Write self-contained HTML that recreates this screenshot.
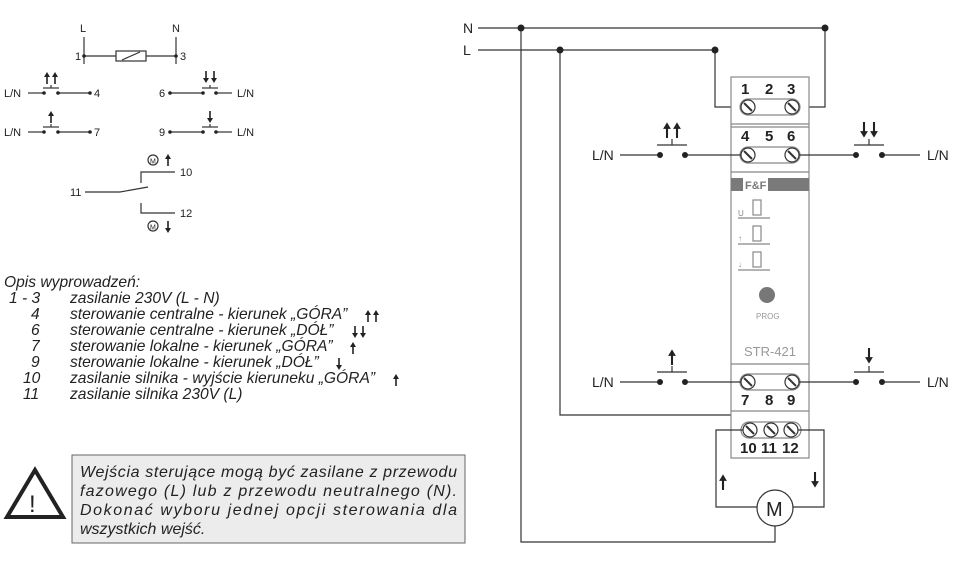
<!DOCTYPE html>
<html><head><meta charset="utf-8"><style>
html,body{margin:0;padding:0;background:#fff;width:965px;height:580px;overflow:hidden}
svg{display:block}
text{font-family:"Liberation Sans",sans-serif;fill:#222}
.it{font-style:italic;font-size:15.6px}
.b{font-weight:bold;font-size:15px}
</style></head><body>
<svg width="965" height="580" viewBox="0 0 965 580" xmlns="http://www.w3.org/2000/svg">
<defs>
<g id="scr"><circle r="7" fill="#fff" stroke="#333" stroke-width="1.2"/><line x1="-4" y1="-4" x2="4" y2="4" stroke="#333" stroke-width="2"/></g>
<g id="up"><line x1="0" y1="0" x2="0" y2="-8" stroke="#222" stroke-width="1.6"/><path d="M-3,-7 L0,-12 L3,-7Z" fill="#222"/></g>
<g id="dn"><line x1="0" y1="0" x2="0" y2="8" stroke="#222" stroke-width="1.6"/><path d="M-3,7 L0,12 L3,7Z" fill="#222"/></g>
</defs>
<g stroke="#333" stroke-width="1.2" fill="none">
<line x1="84" y1="37" x2="84" y2="64"/><line x1="176" y1="37" x2="176" y2="64"/>
<line x1="84" y1="56" x2="116" y2="56"/><line x1="146" y1="56" x2="176" y2="56"/>
<rect x="116" y="51" width="30" height="10"/><line x1="122" y1="60" x2="140" y2="52"/>
<line x1="28" y1="93" x2="44" y2="93"/><line x1="58" y1="93" x2="90" y2="93"/>
<line x1="43" y1="88" x2="59" y2="88"/><line x1="51" y1="88" x2="51" y2="85"/>
<line x1="170" y1="93" x2="203" y2="93"/><line x1="216" y1="93" x2="232" y2="93"/>
<line x1="202" y1="88" x2="218" y2="88"/><line x1="210" y1="88" x2="210" y2="85"/>
<line x1="28" y1="132" x2="44" y2="132"/><line x1="58" y1="132" x2="90" y2="132"/>
<line x1="43" y1="127" x2="59" y2="127"/><line x1="51" y1="127" x2="51" y2="124"/>
<line x1="170" y1="132" x2="203" y2="132"/><line x1="216" y1="132" x2="232" y2="132"/>
<line x1="202" y1="127" x2="218" y2="127"/><line x1="210" y1="127" x2="210" y2="124"/>
<line x1="85" y1="192" x2="120" y2="192"/><line x1="120" y1="192" x2="148" y2="187"/>
<polyline points="141,183 141,172 175,172"/><polyline points="141,203 141,213 175,213"/>
<circle cx="153" cy="160" r="5"/><circle cx="153" cy="226" r="5"/>
</g>
<g fill="#222">
<circle cx="84" cy="56" r="1.8"/><circle cx="176" cy="56" r="1.8"/>
<circle cx="44" cy="93" r="1.8"/><circle cx="58" cy="93" r="1.8"/><circle cx="90" cy="93" r="1.8"/>
<circle cx="170" cy="93" r="1.8"/><circle cx="203" cy="93" r="1.8"/><circle cx="216" cy="93" r="1.8"/>
<circle cx="44" cy="132" r="1.8"/><circle cx="58" cy="132" r="1.8"/><circle cx="90" cy="132" r="1.8"/>
<circle cx="170" cy="132" r="1.8"/><circle cx="203" cy="132" r="1.8"/><circle cx="216" cy="132" r="1.8"/>
</g>
<use href="#up" x="47" y="84"/><use href="#up" x="55" y="84"/>
<use href="#dn" x="206" y="71"/><use href="#dn" x="214" y="71"/>
<use href="#up" x="51" y="123"/><use href="#dn" x="210" y="111"/>
<use href="#up" x="168" y="166"/><use href="#dn" x="168" y="221"/>
<g font-size="11">
<text x="80" y="32">L</text><text x="172" y="32">N</text>
<text x="75" y="60">1</text><text x="180" y="60">3</text>
<text x="4" y="97">L/N</text><text x="94" y="97">4</text>
<text x="159" y="97">6</text><text x="237" y="97">L/N</text>
<text x="4" y="136">L/N</text><text x="94" y="136">7</text>
<text x="159" y="136">9</text><text x="237" y="136">L/N</text>
<text x="70" y="196">11</text><text x="180" y="176">10</text><text x="180" y="217">12</text>
<text x="150" y="163.5" font-size="7">M</text><text x="150" y="229.5" font-size="7">M</text>
</g>
<g class="it">
<text x="4" y="287">Opis wyprowadzeń:</text>
<text x="9" y="303">1 - 3</text><text x="70" y="303">zasilanie 230V (L - N)</text>
<text x="31" y="319">4</text><text x="70" y="319">sterowanie centralne - kierunek „GÓRA”</text>
<text x="31" y="335">6</text><text x="70" y="335">sterowanie centralne - kierunek „DÓŁ”</text>
<text x="31" y="351">7</text><text x="70" y="351">sterowanie lokalne - kierunek „GÓRA”</text>
<text x="31" y="367">9</text><text x="70" y="367">sterowanie lokalne - kierunek „DÓŁ”</text>
<text x="23" y="383">10</text><text x="70" y="383">zasilanie silnika - wyjście kieruneku „GÓRA”</text>
<text x="23" y="399">11</text><text x="70" y="399">zasilanie silnika 230V (L)</text>
</g>
<use href="#up" x="368" y="322"/><use href="#up" x="376" y="322"/>
<use href="#dn" x="355" y="326"/><use href="#dn" x="363" y="326"/>
<use href="#up" x="353" y="354"/><use href="#dn" x="339" y="358"/>
<use href="#up" x="396" y="386"/>
<rect x="72" y="455" width="393" height="88" fill="#ececec" stroke="#666" stroke-width="1"/>
<g class="it" style="font-size:16px">
<text x="80" y="477" textLength="377" lengthAdjust="spacing">Wejścia sterujące mogą być zasilane z przewodu</text>
<text x="80" y="496" textLength="377" lengthAdjust="spacing">fazowego (L) lub z przewodu neutralnego (N).</text>
<text x="80" y="515" textLength="377" lengthAdjust="spacing">Dokonać wyboru jednej opcji sterowania dla</text>
<text x="80" y="534">wszystkich wejść.</text>
</g>
<path d="M35,470 L63,517 L7,517Z" fill="#fff" stroke="#222" stroke-width="4" stroke-linejoin="miter"/>
<text x="29" y="512" font-size="24">!</text>
<g stroke="#333" stroke-width="1.2" fill="none">
<line x1="478" y1="28" x2="825" y2="28"/>
<line x1="478" y1="50" x2="715" y2="50"/>
<polyline points="521,28 521,542 775,542 775,526"/>
<polyline points="560,50 560,415 771,415 771,430"/>
<polyline points="715,50 715,107 748,107"/>
<polyline points="825,28 825,107 792,107"/>
<rect x="731" y="77" width="78" height="381" fill="#fff" stroke="#888"/>
<line x1="731" y1="124" x2="809" y2="124" stroke="#888"/>
<line x1="731" y1="127" x2="809" y2="127" stroke="#888"/>
<line x1="731" y1="172" x2="809" y2="172" stroke="#888"/>
<line x1="731" y1="364" x2="809" y2="364" stroke="#888"/>
<line x1="731" y1="411" x2="809" y2="411" stroke="#888"/>
<rect x="740" y="99" width="60" height="16" rx="8" stroke="#888"/>
<rect x="740" y="147" width="60" height="16" rx="8" stroke="#888"/>
<rect x="740" y="374" width="60" height="16" rx="8" stroke="#888"/>
<rect x="741" y="422" width="60" height="16" rx="8" stroke="#888"/>
<line x1="620" y1="155" x2="660" y2="155"/><line x1="685" y1="155" x2="748" y2="155"/>
<line x1="657" y1="145" x2="687" y2="145"/><line x1="672" y1="145" x2="672" y2="139"/>
<line x1="792" y1="155" x2="856" y2="155"/><line x1="882" y1="155" x2="920" y2="155"/>
<line x1="854" y1="145" x2="884" y2="145"/><line x1="869" y1="145" x2="869" y2="139"/>
<line x1="620" y1="382" x2="660" y2="382"/><line x1="685" y1="382" x2="748" y2="382"/>
<line x1="657" y1="372" x2="687" y2="372"/><line x1="672" y1="372" x2="672" y2="366"/>
<line x1="792" y1="382" x2="856" y2="382"/><line x1="882" y1="382" x2="920" y2="382"/>
<line x1="854" y1="372" x2="884" y2="372"/><line x1="869" y1="372" x2="869" y2="366"/>
<polyline points="750,430 716,430 716,507 757,507"/>
<polyline points="791,430 824,430 824,507 793,507"/>
<circle cx="775" cy="508" r="18" fill="#fff"/>
<line x1="738" y1="218" x2="770" y2="218" stroke="#888"/>
<line x1="738" y1="244" x2="770" y2="244" stroke="#888"/>
<line x1="738" y1="270" x2="770" y2="270" stroke="#888"/>
<rect x="753" y="200" width="8" height="15" stroke="#888"/>
<rect x="753" y="226" width="8" height="15" stroke="#888"/>
<rect x="753" y="252" width="8" height="15" stroke="#888"/>
</g>
<use href="#scr" x="748" y="107"/><use href="#scr" x="792" y="107"/>
<use href="#scr" x="748" y="155"/><use href="#scr" x="792" y="155"/>
<use href="#scr" x="748" y="382"/><use href="#scr" x="792" y="382"/>
<use href="#scr" x="750" y="430"/><use href="#scr" x="771" y="430"/><use href="#scr" x="791" y="430"/>
<g fill="#222">
<circle cx="521" cy="28" r="3.5"/><circle cx="825" cy="28" r="3.5"/>
<circle cx="560" cy="50" r="3.5"/><circle cx="715" cy="50" r="3.5"/>
<circle cx="660" cy="155" r="3"/><circle cx="685" cy="155" r="3"/>
<circle cx="856" cy="155" r="3"/><circle cx="882" cy="155" r="3"/>
<circle cx="660" cy="382" r="3"/><circle cx="685" cy="382" r="3"/>
<circle cx="856" cy="382" r="3"/><circle cx="882" cy="382" r="3"/>
</g>
<rect x="731" y="178" width="78" height="13" fill="#7a7a7a"/>
<rect x="743" y="178" width="25" height="13" fill="#fff"/>
<text x="745" y="189" font-size="11" font-weight="bold" style="fill:#7a7a7a">F&amp;F</text>
<text x="738" y="216" font-size="8" style="fill:#888">U</text>
<text x="738" y="241" font-size="8" style="fill:#888">↑</text>
<text x="738" y="267" font-size="8" style="fill:#888">↓</text>
<circle cx="767" cy="295" r="8" fill="#777"/>
<text x="756" y="319" font-size="8" style="fill:#999">PROG</text>
<text x="744" y="356" font-size="13" style="fill:#999">STR-421</text>
<g transform="translate(667,138) scale(1.3)"><use href="#up"/></g>
<g transform="translate(677,138) scale(1.3)"><use href="#up"/></g>
<g transform="translate(864,122) scale(1.3)"><use href="#dn"/></g>
<g transform="translate(874,122) scale(1.3)"><use href="#dn"/></g>
<g transform="translate(672,365) scale(1.3)"><use href="#up"/></g>
<g transform="translate(869,348) scale(1.3)"><use href="#dn"/></g>
<g transform="translate(723,490) scale(1.3)"><use href="#up"/></g>
<g transform="translate(815,472) scale(1.3)"><use href="#dn"/></g>
<g class="b">
<text x="741" y="94">1</text><text x="765" y="94">2</text><text x="787" y="94">3</text>
<text x="741" y="141">4</text><text x="765" y="141">5</text><text x="787" y="141">6</text>
<text x="741" y="405">7</text><text x="765" y="405">8</text><text x="787" y="405">9</text>
<text x="740" y="453">10</text><text x="761" y="453">11</text><text x="782" y="453">12</text>
</g>
<text x="766" y="516" font-size="20">M</text>
<g font-size="14">
<text x="463" y="33">N</text><text x="463" y="55">L</text>
<text x="592" y="160">L/N</text><text x="927" y="160">L/N</text>
<text x="592" y="387">L/N</text><text x="927" y="387">L/N</text>
</g>
</svg>
</body></html>
